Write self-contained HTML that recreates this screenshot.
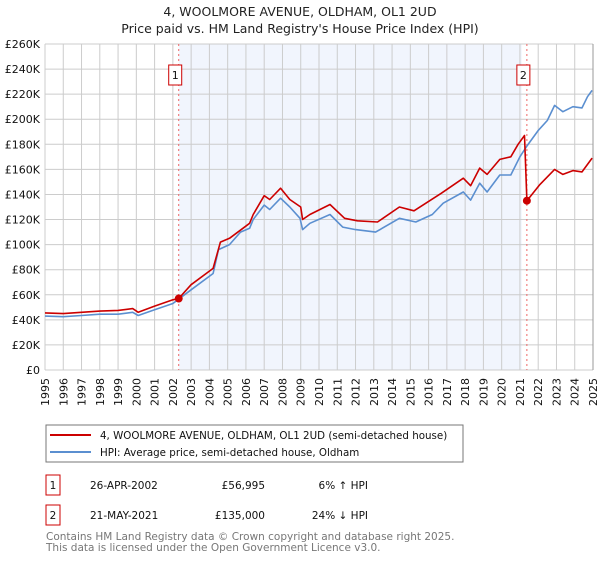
<!DOCTYPE html>
<html><head><meta charset="utf-8"><style>
body{margin:0;background:#fff;font-family:"Liberation Sans","DejaVu Sans",sans-serif;}
svg text{font-family:"DejaVu Sans","Liberation Sans",sans-serif;}
</style></head><body>
<svg id="chart" width="600" height="560" viewBox="0 0 600 560">
<text x="300" y="16" text-anchor="middle" font-size="12.5" fill="#222">4, WOOLMORE AVENUE, OLDHAM, OL1 2UD</text>
<text x="300" y="33" text-anchor="middle" font-size="12.5" fill="#222">Price paid vs. HM Land Registry's House Price Index (HPI)</text>
<g id="plot"></g>
<g>
<rect x="46" y="425" width="417" height="37" fill="#fff" stroke="#777"/>
<line x1="50" y1="435" x2="91" y2="435" stroke="#cc0000" stroke-width="2"/>
<text x="100" y="439" font-size="10.3" fill="#111">4, WOOLMORE AVENUE, OLDHAM, OL1 2UD (semi-detached house)</text>
<line x1="50" y1="452" x2="91" y2="452" stroke="#5b8fd0" stroke-width="2"/>
<text x="100" y="456" font-size="10.3" fill="#111">HPI: Average price, semi-detached house, Oldham</text>
</g>
<g font-size="10.5" fill="#111">
<rect x="46" y="475" width="14" height="20" fill="#fff" stroke="#cc0000"/>
<text x="53" y="489" text-anchor="middle">1</text>
<text x="90" y="489">26-APR-2002</text>
<text x="265" y="489" text-anchor="end">£56,995</text>
<text x="368" y="489" text-anchor="end">6% ↑ HPI</text>
<rect x="46" y="505" width="14" height="20" fill="#fff" stroke="#cc0000"/>
<text x="53" y="519" text-anchor="middle">2</text>
<text x="90" y="519">21-MAY-2021</text>
<text x="265" y="519" text-anchor="end">£135,000</text>
<text x="368" y="519" text-anchor="end">24% ↓ HPI</text>
</g>
<text x="46" y="540" font-size="10.5" fill="#777">Contains HM Land Registry data © Crown copyright and database right 2025.</text>
<text x="46" y="551" font-size="10.5" fill="#777">This data is licensed under the Open Government Licence v3.0.</text>
</svg>
<script>
const yTicks=[0,20,40,60,80,100,120,140,160,180,200,220,240,260];
const years=[1995,1996,1997,1998,1999,2000,2001,2002,2003,2004,2005,2006,2007,2008,2009,2010,2011,2012,2013,2014,2015,2016,2017,2018,2019,2020,2021,2022,2023,2024,2025];
const hpiT=[1995,1996,1997,1998,1999,1999.8,2000.1,2001,2002,2003,2004.2,2004.5,2005.1,2005.7,2006.2,2006.4,2007.0,2007.3,2007.9,2008.4,2008.96,2009.1,2009.5,2010.6,2011.3,2012.0,2013.1,2014.4,2015.3,2016.2,2016.8,2017.9,2018.3,2018.8,2019.2,2019.9,2020.5,2021.0,2021.4,2022.0,2022.5,2022.9,2023.35,2023.9,2024.4,2024.7,2024.95];
const hpiV=[43,42.5,43.5,44.5,44.5,46,43.5,48,53,64,77,96,100,110,113,120,131.5,128,137,130,121,112,117,124,114,112,110,121,118,124,133,142,135.5,149,142,155.5,155.5,170,179,191,199,211,206,210,209,218,223];
const redT=[1995,1996,1997,1998,1999,1999.8,2000.1,2001,2002,2002.32];
const redV=[45.5,45,46,47,47.5,49,46,51,56,57];
const red2T=[2002.32,2003,2004.2,2004.6,2005.1,2006.2,2006.4,2007.0,2007.3,2007.9,2008.4,2009.0,2009.1,2009.5,2010.6,2011.4,2012.1,2013.2,2014.4,2015.2,2016.7,2017.9,2018.3,2018.8,2019.2,2019.9,2020.5,2020.9,2021.25,2021.38,2022.1,2022.9,2023.35,2023.9,2024.4,2024.95];
const red2V=[57,68,81,102,105,117,124,139,136,145,136,130,120,124,132,121,119,118,130,127,141,153,147,161,156,168,170,180,187,135,148,160,156,159,158,169];
const saleT=[2002.32,2021.38];
const saleV=[56.995,135];
const saleLabels=["1","2"];
const X0=45,X1=593,Y0=370,Y1=44;
const x=t=>X0+(t-1995)/(2025-1995)*(X1-X0);
const y=v=>Y0-v/260*(Y0-Y1);
const NS="http://www.w3.org/2000/svg";
const g=document.getElementById('plot');
function mk(tag,attrs,parent){const e=document.createElementNS(NS,tag);for(const k in attrs)e.setAttribute(k,attrs[k]);(parent||g).appendChild(e);return e;}
let e=mk('rect',{x:x(2002.32),y:Y1,width:x(2021.1)-x(2002.32),height:Y0-Y1,fill:'#eef3fc',opacity:0.8});


years.forEach(yr=>{
 const l=mk('line',{x1:x(yr),x2:x(yr),y1:Y1,y2:Y0,stroke:'#cccccc','stroke-width':1});
 
 
 const tx=x(yr)+4;
 const t=mk('text',{x:tx,y:378,'font-size':11,fill:'#111','text-anchor':'end',transform:'rotate(-90 '+tx+' 378)'});
 t.textContent=yr;
 
 
});
yTicks.forEach(v=>{
 const l=mk('line',{x1:X0,x2:X1,y1:y(v),y2:y(v),stroke:'#cccccc','stroke-width':1});
 
 
 const t=mk('text',{x:40,y:y(v)+4,'font-size':11,fill:'#111','text-anchor':'end'});
 t.textContent=v===0?'£0':'£'+v+'K';
 
 
});
e=mk('line',{x1:X1,x2:X1,y1:Y1,y2:Y0,stroke:'#999','stroke-width':1});


saleT.forEach((t,i)=>{
 const l=mk('line',{x1:x(t),x2:x(t),y1:Y1,y2:Y0,stroke:'#ee6666','stroke-width':1,'stroke-dasharray':'2,3'});
 
 
});
function path(T,V,col,name){
 const d=T.map((t,i)=>(i?'L':'M')+x(t).toFixed(1)+','+y(V[i]).toFixed(1)).join('');
 const p=mk('path',{d:d,fill:'none',stroke:col,'stroke-width':1.6,'stroke-linejoin':'round'});
 
 
}
path(hpiT,hpiV,'#5b8fd0','hpi-line');
path(redT,redV,'#cc0000','price-line');
path(red2T,red2V,'#cc0000','price-line-indexed');
saleT.forEach((t,i)=>{
 const c=mk('circle',{cx:x(t),cy:y(saleV[i]),r:4,fill:'#cc0000'});
 
 
 const bx=x(t)-7;
 const r=mk('rect',{x:bx-3,y:65,width:13,height:20,fill:'#fff',stroke:'#cc0000'});
 
 
 const tx=mk('text',{x:bx+3.5,y:79,'font-size':11,fill:'#111','text-anchor':'middle'});
 tx.textContent=saleLabels[i];
 
 
});
</script>
</body></html>
